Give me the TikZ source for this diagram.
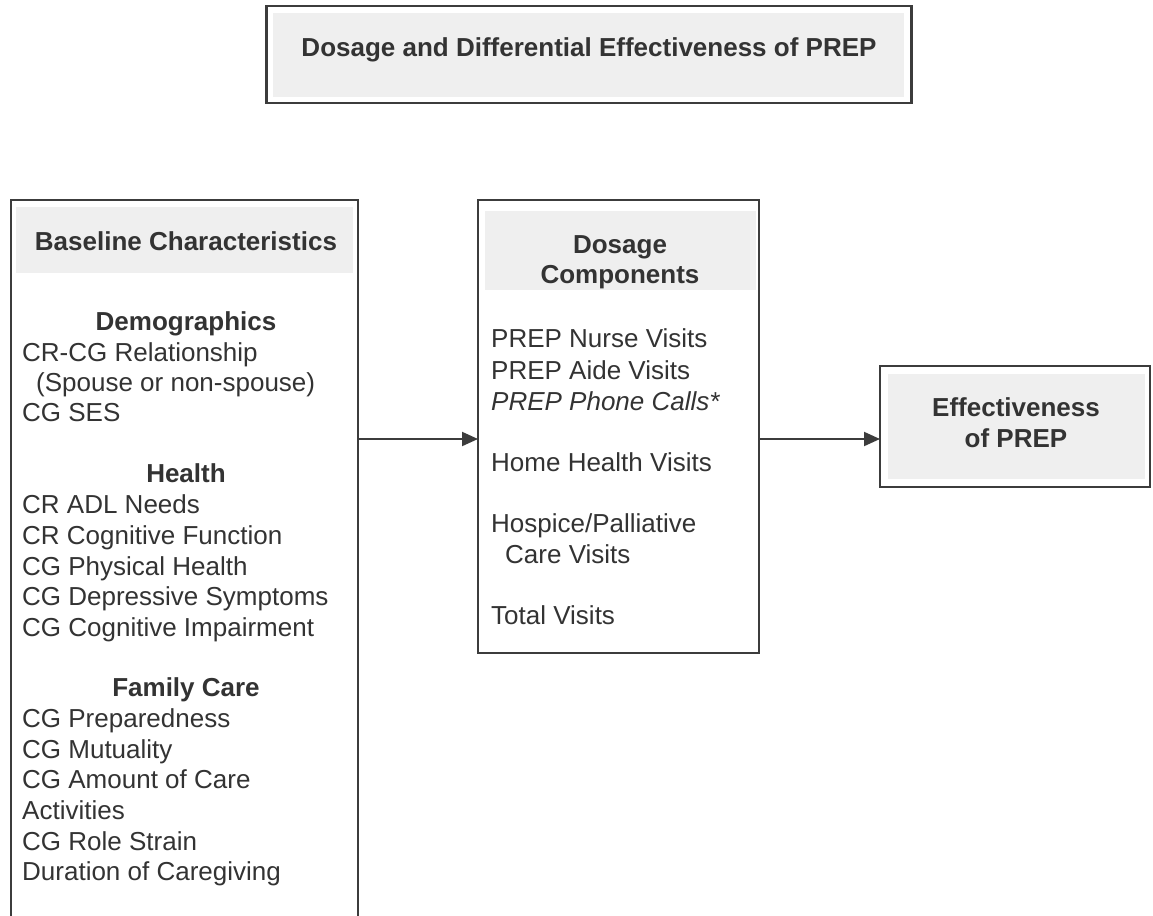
\documentclass[tikz,border=0pt]{standalone}
\usepackage{fontspec}
\setmainfont{Liberation Sans}
\usetikzlibrary{arrows.meta}
\definecolor{edge}{HTML}{3C3C3C}
\definecolor{band}{HTML}{EFEFEF}
\definecolor{ink}{HTML}{333333}
\tikzset{
  box/.style={draw=edge, line width=2.2pt, rectangle, inner sep=0pt, outer sep=0pt, anchor=north west},
  item/.style={anchor=base west, inner sep=0pt, text=ink, font=\fontsize{26}{31}\selectfont},
  itemit/.style={item, font=\fontsize{26}{31}\selectfont\itshape},
  head/.style={anchor=base, inner sep=0pt, text=ink, font=\fontsize{26}{31}\selectfont\bfseries},
  arr/.style={draw=edge, line width=2pt, -{Triangle[length=16pt,width=14pt]}}
}
\begin{document}
\begin{tikzpicture}[x=1pt,y=-1pt]
\clip (0,0) rectangle (1153,915);
\fill[white] (0,0) rectangle (1153,915);

% gray fills
\fill[band] (273,13) rectangle (904,97);
\fill[band] (16,207) rectangle (353,273);
\fill[band] (485,211) rectangle (756,290);
\fill[band] (888,374) rectangle (1145,479);

% boxes
\node[box, minimum width=645pt, minimum height=97pt] (title) at (266.5,6) {};
\node[box, minimum width=347pt, minimum height=760pt] (base) at (11,200) {};
\node[box, minimum width=281pt, minimum height=453pt] (dose) at (478,200) {};
\node[box, minimum width=270pt, minimum height=121pt] (eff) at (880,366) {};

% title
\node[head] (ttext) at (589,57) {Dosage and Differential Effectiveness of PREP};

% left box
\node[head] (bh) at (186,250) {Baseline Characteristics};
\node[head] (h1) at (186,330) {Demographics};
\node[item] (l1) at (22,361) {CR-CG Relationship};
\node[item] (l2) at (36,391) {(Spouse or non-spouse)};
\node[item] (l3) at (22,421) {CG SES};
\node[head] (h2) at (186,482) {Health};
\node[item] (l4) at (22,513) {CR ADL Needs};
\node[item] (l5) at (22,544) {CR Cognitive Function};
\node[item] (l6) at (22,575) {CG Physical Health};
\node[item] (l7) at (22,605) {CG Depressive Symptoms};
\node[item] (l8) at (22,636) {CG Cognitive Impairment};
\node[head] (h3) at (186,696) {Family Care};
\node[item] (l9) at (22,727) {CG Preparedness};
\node[item] (l10) at (22,758) {CG Mutuality};
\node[item] (l11) at (22,788) {CG Amount of Care};
\node[item] (l12) at (22,819) {Activities};
\node[item] (l13) at (22,850) {CG Role Strain};
\node[item] (l14) at (22,880) {Duration of Caregiving};

% middle box
\node[head] (dh1) at (620,253) {Dosage};
\node[head] (dh2) at (620,283) {Components};
\node[item] (m1) at (491,347) {PREP Nurse Visits};
\node[item] (m2) at (491,379) {PREP Aide Visits};
\node[itemit] (m3) at (491,410) {PREP Phone Calls*};
\node[item] (m4) at (491,471) {Home Health Visits};
\node[item] (m5) at (491,532) {Hospice/Palliative};
\node[item] (m6) at (505,563) {Care Visits};
\node[item] (m7) at (491,624) {Total Visits};

% right box
\node[head] (e1) at (1016,416) {Effectiveness};
\node[head] (e2) at (1016,447) {of PREP};

% connectors
\coordinate (lvl) at (0,439);
\draw[arr] (base.east |- lvl) -- (dose.west |- lvl);
\draw[arr] (dose.east |- lvl) -- (eff.west |- lvl);
\end{tikzpicture}
\end{document}
